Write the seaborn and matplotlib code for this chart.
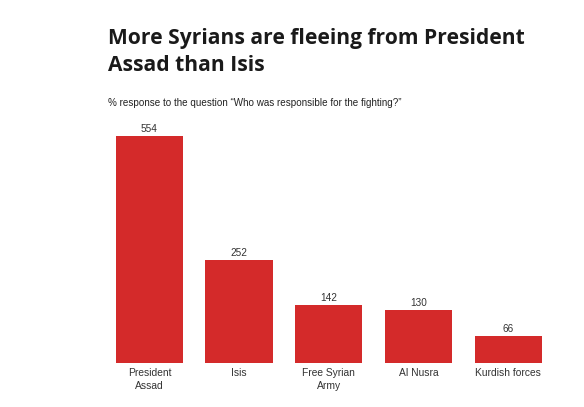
import matplotlib
matplotlib.use("Agg")
import matplotlib.pyplot as plt
import seaborn as sns
import pandas as pd

categories = ["President\nAssad", "Isis", "Free Syrian\nArmy", "Al Nusra", "Kurdish forces"]
values = [554, 252, 142, 130, 66]
value_labels = ["554", "252", "142", "130", "66"]

title = "More Syrians are fleeing from President\nAssad than Isis"
subtitle = "% response to the question \u201cWho was responsible for the fighting?\u201d"

sns.set_theme(style="white")
plt.rcParams['font.family'] = ['Liberation Sans', 'DejaVu Sans']

df = pd.DataFrame({"cat": categories, "val": values})

fig = plt.figure(figsize=(5.84, 4.07), dpi=100)
ax = fig.add_axes([0.179, 0.108, 0.768, 0.558])
sns.barplot(data=df, x="cat", y="val", color="#d42a2a", saturation=1, width=0.75,
            linewidth=0, ax=ax)
ax.set_xlim(-0.5, 4.5)
ax.set_ylim(0, 554)
for s in ax.spines.values():
    s.set_visible(False)
ax.set_yticks([])
ax.set_xlabel("")
ax.set_ylabel("")
ax.tick_params(axis="x", length=0, pad=3.8, labelsize=7.4, labelcolor="#333333")
for lbl in ax.get_xticklabels():
    lbl.set_linespacing(1.3)
for i, (v, t) in enumerate(zip(values, value_labels)):
    ax.annotate(t, (i, v), xytext=(0, 1.5), textcoords="offset points", ha="center", va="bottom",
                fontsize=7.2, color="#333333", annotation_clip=False)

fig.text(108/584, 1 - 28/407, title, ha="left", va="top", fontsize=15.1, fontweight="bold",
         family=["Open Sans", "DejaVu Sans"], color="#1a1a1a", linespacing=1.4)
fig.text(108/584, 1 - 103/407, subtitle, ha="left", va="center", fontsize=7.1, color="#222222")

fig.savefig("out.png", dpi=100)
